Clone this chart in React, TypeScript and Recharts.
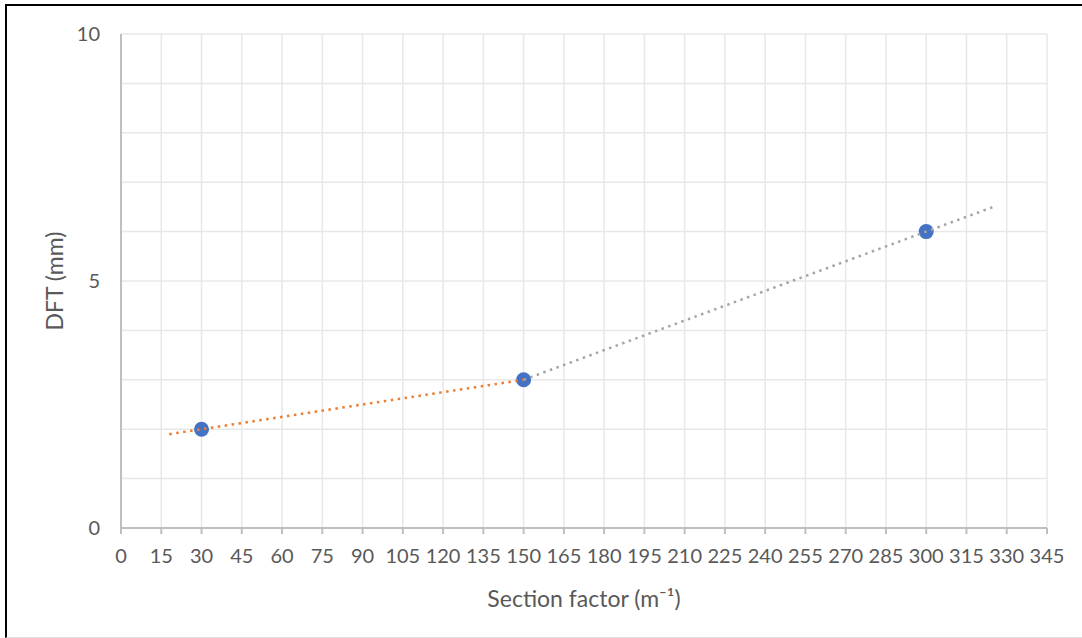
import { ScatterChart, Scatter, XAxis, YAxis, CartesianGrid, Label } from "recharts"

// measured points
const sectionFactor = [30, 150, 300]
const dftValues = [2, 3, 6]

// trendline end points (lower and upper segments)
const lowTrendX = [18, 150]
const lowTrendY = [1.9, 3]
const highTrendX = [150, 325]
const highTrendY = [3, 6.5]

const xTicks = [0, 15, 30, 45, 60, 75, 90, 105, 120, 135, 150, 165, 180, 195, 210, 225, 240, 255, 270, 285, 300, 315, 330, 345]
const yTicks = [0, 1, 2, 3, 4, 5, 6, 7, 8, 9, 10]
const yLabelTicks = [0, 5, 10]

const points = sectionFactor.map((x, i) => ({ x, y: dftValues[i] }))
const lowTrend = lowTrendX.map((x, i) => ({ x, y: lowTrendY[i] }))
const highTrend = highTrendX.map((x, i) => ({ x, y: highTrendY[i] }))

const font = "Lato, 'Open Sans', sans-serif"
const textColor = "#595959"
const noDot = () => <g />

export default function App() {
  return (
    <div style={{ position: "fixed", left: 0, top: 0, width: 1082, height: 638, overflow: "hidden", background: "#fff", fontFamily: font }}>
      <div
        style={{
          position: "absolute",
          left: 5,
          top: 4,
          width: 1100,
          height: 631,
          borderTop: "2px solid #000",
          borderLeft: "2px solid #000",
          borderBottom: "1px solid #e0e0e0",
        }}
      />
      <div style={{ position: "absolute", left: 0, top: 0 }}>
        <ScatterChart width={1082} height={638} margin={{ top: 34, right: 35, bottom: 40, left: 61 }}>
          <CartesianGrid stroke="#e8e8e8" strokeWidth={1.5} horizontalValues={yTicks} verticalValues={xTicks} />
          <XAxis
            type="number"
            dataKey="x"
            domain={[0, 345]}
            ticks={xTicks}
            interval={0}
            height={70}
            stroke="#bfbfbf"
            strokeWidth={2}
            tickSize={6}
            tickMargin={15}
            tick={{ fill: textColor, fontSize: 20, fontFamily: font }}
          >
            <Label position="insideBottom" offset={-9} fill={textColor} fontSize={23} fontFamily={font}>
              Section factor (m⁻¹)
            </Label>
          </XAxis>
          <YAxis
            type="number"
            dataKey="y"
            domain={[0, 10]}
            ticks={yTicks}
            interval={0}
            width={60}
            stroke="#bfbfbf"
            strokeWidth={2}
            tickLine={false}
            tickSize={0}
            tickMargin={21}
            tickFormatter={(v: number) => (yLabelTicks.includes(v) ? String(v) : "")}
            tick={{ fill: textColor, fontSize: 20, fontFamily: font }}
          >
            <Label angle={-90} position="insideLeft" offset={-6} fill={textColor} fontSize={23} fontFamily={font} style={{ textAnchor: "middle" }}>
              DFT (mm)
            </Label>
          </YAxis>
          <Scatter data={points} fill="#4472C4" isAnimationActive={false} shape={(p: any) => <circle cx={p.cx} cy={p.cy} r={7.5} fill="#4472C4" />} />
          <Scatter
            data={lowTrend}
            isAnimationActive={false}
            line={{ stroke: "#ED7D31", strokeWidth: 2.5, strokeDasharray: "2.5 4.5" }}
            shape={noDot}
          />
          <Scatter
            data={highTrend}
            isAnimationActive={false}
            line={{ stroke: "#A5A5A5", strokeWidth: 2.5, strokeDasharray: "2.5 4.5" }}
            shape={noDot}
          />
        </ScatterChart>
      </div>
    </div>
  )
}
